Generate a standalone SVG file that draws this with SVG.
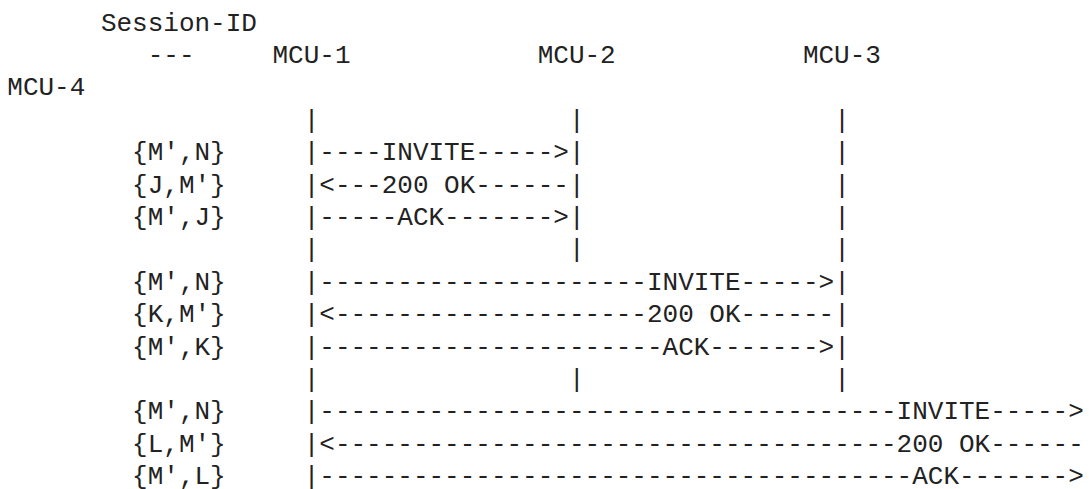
<svg xmlns="http://www.w3.org/2000/svg" width="1089" height="489" viewBox="0 0 1089 489">
<style>
text{font-family:"Liberation Mono","DejaVu Sans Mono",monospace;font-size:26px;fill:#222;white-space:pre}
</style>
<rect width="1089" height="489" fill="#fff"/>
<g id="session-id-header">
<text x="100.9" y="30.5">Session-ID</text>
<text x="147.7" y="62.9">---</text>
</g>
<g id="mcu-1"><text x="272.5" y="62.9">MCU-1</text></g>
<g id="mcu-2"><text x="537.7" y="62.9">MCU-2</text></g>
<g id="mcu-3"><text x="802.9" y="62.9">MCU-3</text></g>
<g id="mcu-4"><text x="7.3" y="95.3">MCU-4</text></g>
<g id="session-ids">
<text x="132.1" y="160.1">{M',N}</text>
<text x="132.1" y="192.5">{J,M'}</text>
<text x="132.1" y="224.9">{M',J}</text>
<text x="132.1" y="289.7">{M',N}</text>
<text x="132.1" y="322.1">{K,M'}</text>
<text x="132.1" y="354.5">{M',K}</text>
<text x="132.1" y="419.3">{M',N}</text>
<text x="132.1" y="451.7">{L,M'}</text>
<text x="132.1" y="484.1">{M',L}</text>
</g>
<g id="connectors">
<text x="303.7" y="127.7">|                |                |</text>
<text x="303.7" y="160.1">|----INVITE----->|                |</text>
<text x="303.7" y="192.5">|&lt;---200 OK------|                |</text>
<text x="303.7" y="224.9">|-----ACK------->|                |</text>
<text x="303.7" y="257.3">|                |                |</text>
<text x="303.7" y="289.7">|---------------------INVITE----->|</text>
<text x="303.7" y="322.1">|&lt;--------------------200 OK------|</text>
<text x="303.7" y="354.5">|----------------------ACK------->|</text>
<text x="303.7" y="386.9">|                |                |</text>
<text x="303.7" y="419.3">|-------------------------------------INVITE-----&gt;</text>
<text x="303.7" y="451.7">|&lt;------------------------------------200 OK------</text>
<text x="303.7" y="484.1">|--------------------------------------ACK-------&gt;</text>
</g>
</svg>
